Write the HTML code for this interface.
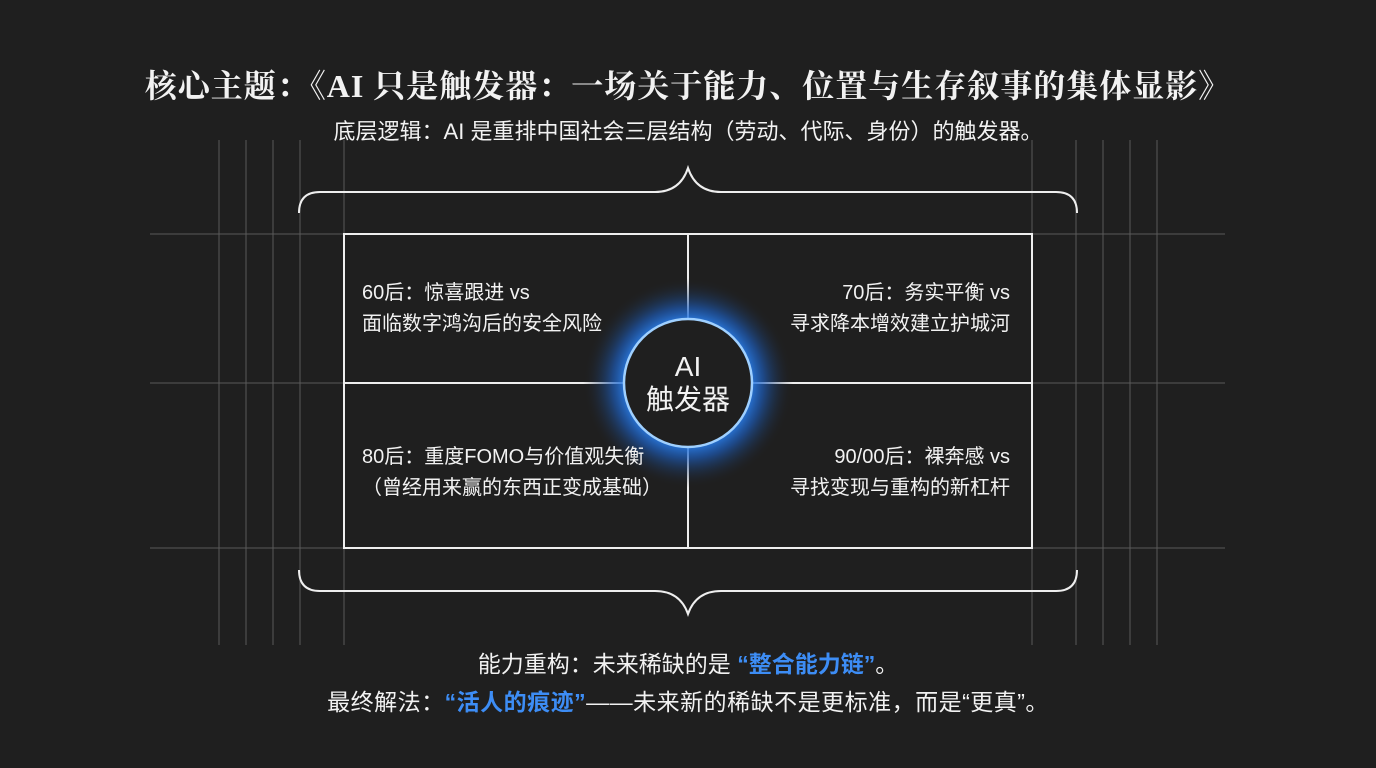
<!DOCTYPE html>
<html><head><meta charset="utf-8"><style>
body{margin:0;width:1376px;height:768px;background:#1f1f1f;overflow:hidden;position:relative;font-family:"Liberation Sans","Noto Sans CJK SC",sans-serif;color:#f2f2f2}
.t{position:absolute;white-space:nowrap}
</style></head><body>
<svg width="1376" height="768" style="position:absolute;left:0;top:0">
<defs><radialGradient id="g" cx="50%" cy="50%" r="50%">
<stop offset="0.55" stop-color="#2f8cff" stop-opacity="1"/><stop offset="0.72" stop-color="#1d5fc0" stop-opacity="0.65"/><stop offset="1" stop-color="#1f1f1f" stop-opacity="0"/></radialGradient></defs>
<g stroke="#5a5a5a" stroke-width="1">
<line x1="219" y1="140" x2="219" y2="645"/><line x1="246" y1="140" x2="246" y2="645"/><line x1="273" y1="140" x2="273" y2="645"/><line x1="300" y1="140" x2="300" y2="645"/><line x1="344" y1="140" x2="344" y2="645"/>
<line x1="1032" y1="140" x2="1032" y2="645"/><line x1="1076" y1="140" x2="1076" y2="645"/><line x1="1103" y1="140" x2="1103" y2="645"/><line x1="1130" y1="140" x2="1130" y2="645"/><line x1="1157" y1="140" x2="1157" y2="645"/>
<line x1="150" y1="234" x2="1225" y2="234"/><line x1="150" y1="383" x2="1225" y2="383"/><line x1="150" y1="548" x2="1225" y2="548"/>
</g>
<g fill="none" stroke="#eee" stroke-width="2">
<path d="M299 213 Q299 192 320 192 L655 192 Q680 192 688 168 Q696 192 721 192 L1056 192 Q1077 192 1077 213"/>
<path d="M299 570 Q299 591 320 591 L655 591 Q680 591 688 614 Q696 591 721 591 L1056 591 Q1077 591 1077 570"/>
<rect x="344" y="234" width="688" height="314"/>
<line x1="688" y1="234" x2="688" y2="548"/><line x1="344" y1="383" x2="1032" y2="383"/>
</g>
<circle cx="688" cy="383" r="105" fill="url(#g)"/>
<circle cx="688" cy="383" r="64" fill="#1f1f1f" stroke="#9fd0ff" stroke-width="2.5"/>
</svg>
<div class="t" style="left:0;width:1376px;text-align:center;top:61px;font-family:'Liberation Serif','Noto Serif CJK SC',serif;font-weight:bold;font-size:32px;letter-spacing:1px">核心主题：《AI 只是触发器：一场关于能力、位置与生存叙事的集体显影》</div>
<div class="t" style="left:0;width:1376px;text-align:center;top:114px;font-size:22px">底层逻辑：AI 是重排中国社会三层结构（劳动、代际、身份）的触发器。</div>
<div class="t" style="left:362px;top:278px;font-size:20px;line-height:31px">60后：惊喜跟进 vs<br>面临数字鸿沟后的安全风险</div>
<div class="t" style="right:366px;top:278px;font-size:20px;line-height:31px;text-align:right">70后：务实平衡 vs<br>寻求降本增效建立护城河</div>
<div class="t" style="left:362px;top:442px;font-size:20px;line-height:31px">80后：重度FOMO与价值观失衡<br>（曾经用来赢的东西正变成基础）</div>
<div class="t" style="right:366px;top:442px;font-size:20px;line-height:31px;text-align:right">90/00后：裸奔感 vs<br>寻找变现与重构的新杠杆</div>
<div class="t" style="left:588px;width:200px;text-align:center;top:350px;font-size:28px;line-height:33px">AI<br>触发器</div>
<div class="t" style="left:0;width:1376px;text-align:center;top:645px;font-size:23px">能力重构：未来稀缺的是 <b style="color:#3d8df5">“整合能力链”</b>。</div>
<div class="t" style="left:0;width:1376px;text-align:center;top:683px;font-size:23px;letter-spacing:0.5px">最终解法：<b style="color:#3d8df5">“活人的痕迹”</b>——未来新的稀缺不是更标准，而是“更真”。</div>
</body></html>
